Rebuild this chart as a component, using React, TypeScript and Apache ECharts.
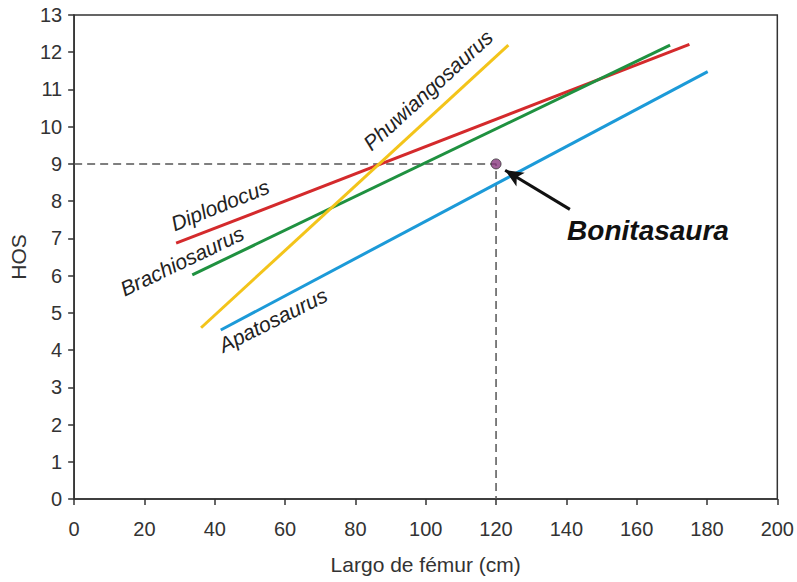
import React, { useEffect, useRef } from "react";
import * as echarts from "echarts";

const xTicks = [0, 20, 40, 60, 80, 100, 120, 140, 160, 180, 200];
const speciesNames = ["Diplodocus", "Brachiosaurus", "Phuwiangosaurus", "Apatosaurus"];
const diplodocus = [[29, 6.87], [175, 12.21]];
const brachiosaurus = [[33.6, 6.02], [169.5, 12.19]];
const phuwiangosaurus = [[36.1, 4.6], [123.5, 12.19]];
const apatosaurus = [[41.7, 4.54], [180.2, 11.48]];
const bonitasaura = [120, 9];
const arrowFrom = [141, 7.78];
const arrowTo = [122.6, 8.83];

const FONT = "'Liberation Sans', Arial, sans-serif";

export default function App() {
  const ref = useRef<HTMLDivElement>(null);
  useEffect(() => {
    const chart = echarts.init(ref.current!, null, { renderer: "svg" });
    const lineSeries = (name: string, data: number[][], color: string) => ({
      name,
      type: "line",
      data,
      symbol: "none",
      lineStyle: { color, width: 3 },
      z: 3,
    });
    const label = (text: string, x: number, y: number, deg: number) => ({
      type: "text",
      x,
      y,
      rotation: (deg * Math.PI) / 180,
      style: { text, font: `italic 21px ${FONT}`, fill: "#222", align: "center", verticalAlign: "middle" },
    });
    chart.setOption({
      animation: false,
      grid: { left: 72, right: 16, top: 15, bottom: 83, show: true, borderColor: "#333", borderWidth: 1.5 },
      xAxis: {
        type: "value",
        min: 0,
        max: 200,
        interval: 20,
        name: "Largo de fémur (cm)",
        nameLocation: "middle",
        nameGap: 55,
        nameTextStyle: { fontFamily: FONT, fontSize: 21, color: "#333" },
        axisLine: { show: true, lineStyle: { color: "#333", width: 1.5 } },
        axisTick: { show: true, length: 6, lineStyle: { color: "#333", width: 1.5 } },
        axisLabel: { fontFamily: FONT, fontSize: 20, color: "#333", margin: 20, formatter: (v: number) => (xTicks.includes(v) ? String(v) : "") },
        splitLine: { show: false },
      },
      yAxis: {
        type: "value",
        min: 0,
        max: 13,
        interval: 1,
        name: "HOS",
        nameLocation: "middle",
        nameGap: 42,
        nameTextStyle: { fontFamily: FONT, fontSize: 21, color: "#333" },
        axisLine: { show: true, lineStyle: { color: "#333", width: 1.5 } },
        axisTick: { show: true, length: 6, lineStyle: { color: "#333", width: 1.5 } },
        axisLabel: { fontFamily: FONT, fontSize: 20, color: "#333", margin: 12 },
        splitLine: { show: false },
      },
      series: [
        lineSeries(speciesNames[0], diplodocus, "#d42a2c"),
        lineSeries(speciesNames[1], brachiosaurus, "#1f9140"),
        lineSeries(speciesNames[2], phuwiangosaurus, "#f3c41a"),
        lineSeries(speciesNames[3], apatosaurus, "#1c9ad8"),
        {
          name: "guides",
          type: "line",
          data: [[0, bonitasaura[1]], [bonitasaura[0], bonitasaura[1]], [bonitasaura[0], 0]],
          symbol: "none",
          lineStyle: { color: "#555", width: 1.5, type: [8, 5] },
          z: 2,
        },
        {
          name: "Bonitasaura",
          type: "scatter",
          data: [bonitasaura],
          symbol: "circle",
          symbolSize: 10,
          itemStyle: { color: "#8a3a80", borderColor: "#333", borderWidth: 1 },
          z: 5,
          markLine: {
            silent: true,
            symbol: ["none", "arrow"],
            symbolSize: [12, 18],
            label: { show: false },
            lineStyle: { color: "#111", width: 3, type: "solid" },
            data: [[{ coord: arrowFrom }, { coord: arrowTo }]],
          },
        },
      ],
      graphic: [
        label(speciesNames[0], 220, 205, 22),
        label(speciesNames[1], 182, 261, 25.6),
        label(speciesNames[2], 428, 90, 42.4),
        label(speciesNames[3], 273, 320, 26.5),
        { type: "text", x: 648, y: 230, style: { text: "Bonitasaura", font: `italic bold 28px ${FONT}`, fill: "#111", align: "center", verticalAlign: "middle" } },
      ],
    });
    return () => chart.dispose();
  }, []);
  return <div ref={ref} style={{ position: "absolute", left: 0, top: 0, width: 797, height: 582 }} />;
}
